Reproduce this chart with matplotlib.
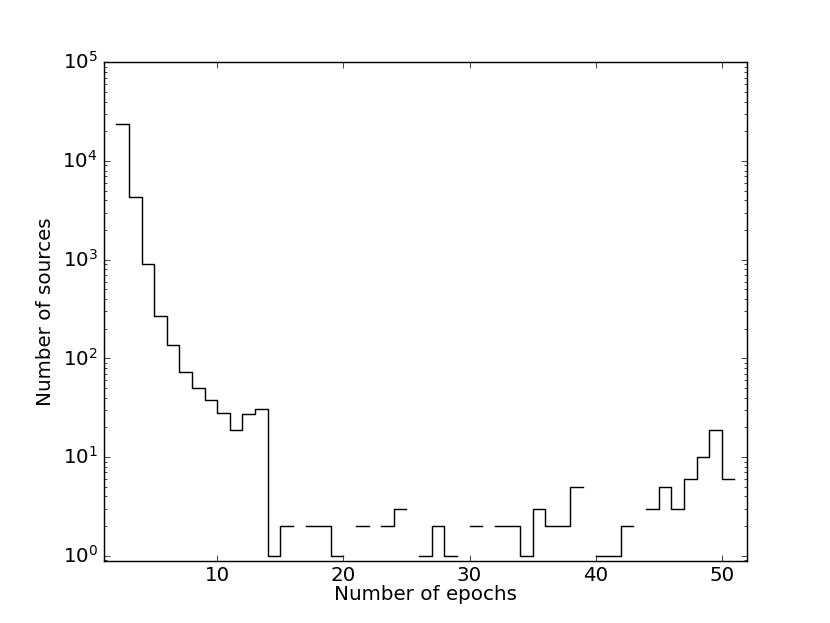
import numpy as np
import matplotlib
matplotlib.use("Agg")
import matplotlib.pyplot as plt

plt.style.use('classic')
plt.rcParams['font.size'] = 13.8

# Bin left edges (number of epochs) and counts per bin
epochs = list(range(2, 51))
counts = [23800, 4340, 896, 267, 135, 72, 50, 38, 28, 19, 27, 31,
          1, 2, 0, 2, 2, 1, 0, 2, 0, 2, 3, 0, 1, 2, 1, 0, 2, 0,
          2, 2, 1, 3, 2, 2, 5, 0, 1, 1, 2, 0, 3, 5, 3, 6, 10, 19, 6]

edges = np.array(epochs + [epochs[-1] + 1], dtype=float)
vals = np.array(counts, dtype=float)
vals[vals <= 0] = np.nan
yv = np.append(vals, vals[-1])

fig = plt.figure(figsize=(8, 6.005), dpi=103.75, facecolor='white')
ax = fig.add_subplot(111)
ax.set_facecolor('white')
ax.step(edges, yv, where='post', color='k', linewidth=1.0)
ax.set_yscale('log')
ax.set_xlim(1, 52)
ax.set_ylim(0.89, 1e5)
ax.tick_params(labelsize=13.8)
ax.set_xlabel('Number of epochs', fontsize=13.8, labelpad=0)
ax.set_ylabel('Number of sources', fontsize=13.8)

fig.savefig('out.png', dpi=103.75, facecolor='white')
